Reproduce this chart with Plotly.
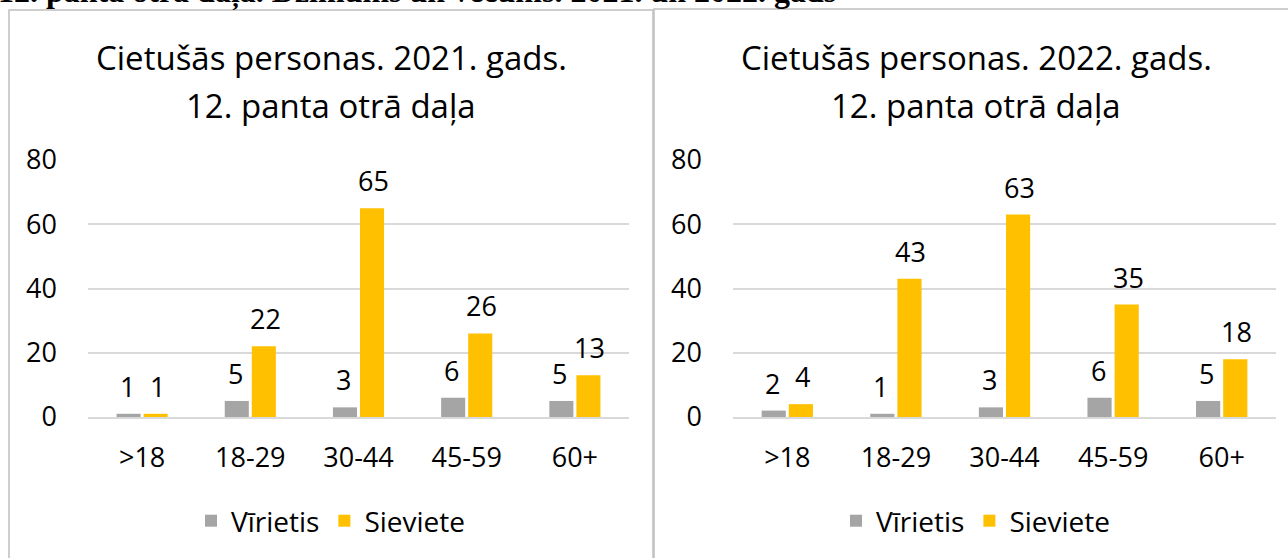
import plotly.graph_objects as go

categories = [">18", "18-29", "30-44", "45-59", "60+"]
male_2021 = [1, 5, 3, 6, 5]
female_2021 = [1, 22, 65, 26, 13]
male_2022 = [2, 1, 3, 6, 5]
female_2022 = [4, 43, 63, 35, 18]
series_names = ["Vīrietis", "Sieviete"]
tick_vals = [0, 20, 40, 60, 80]
title_line1 = ["Cietušās personas. 2021. gads.", "Cietušās personas. 2022. gads."]
title_line2 = "12. panta otrā daļa"
header = "12. panta otrā daļa. Dzimums un vecums. 2021. un 2022. gads"

GRAY = "#A5A5A5"
GOLD = "#FFC000"
FONT = "Open Sans"
W, H = 1288, 558

def px(x):
    return x / W

def py(y):
    return 1 - y / H

fig = go.Figure()
panels = [
    (male_2021, female_2021, "x", "y", "legend"),
    (male_2022, female_2022, "x2", "y2", "legend2"),
]
for male, female, xa, ya, lg in panels:
    for name, vals, col in zip(series_names, [male, female], [GRAY, GOLD]):
        fig.add_trace(go.Bar(
            x=categories, y=vals, name=name, marker_color=col,
            marker_line_width=0, xaxis=xa, yaxis=ya, legend=lg,
            hoverinfo="skip",
        ))
        shift = -15 if col == GRAY else 15
        for c, v in zip(categories, vals):
            fig.add_annotation(
                x=c, y=v, xref=xa, yref=ya, text=str(v), showarrow=False,
                xshift=shift, yanchor="bottom", yshift=7,
                font=dict(family=FONT, size=27, color="#000"),
            )

axis_common = dict(showgrid=False, showline=True, linecolor="#D9D9D9", linewidth=1.5,
                   ticks="", ticklabelstandoff=16,
                   tickfont=dict(family=FONT, size=27, color="#000"),
                   fixedrange=True, automargin=False)
yaxis_common = dict(range=[0, 80], tickvals=tick_vals, showgrid=True, gridcolor="#D9D9D9",
                    gridwidth=1.5, zeroline=False, showline=False, ticks="",
                    ticklabelstandoff=30, automargin=False,
                    tickfont=dict(family=FONT, size=27, color="#000"), fixedrange=True)

ydom = [py(417), py(160)]
fig.update_layout(
    width=W, height=H, margin=dict(l=0, r=0, t=0, b=0, autoexpand=False),
    paper_bgcolor="white", plot_bgcolor="white",
    barmode="group", bargap=0.5, bargroupgap=0.11,
    xaxis=dict(domain=[px(88), px(629)], anchor="y", **axis_common),
    yaxis=dict(domain=ydom, anchor="x", **yaxis_common),
    xaxis2=dict(domain=[px(733), px(1276)], anchor="y2", **axis_common),
    yaxis2=dict(domain=ydom, anchor="x2", **yaxis_common),
    legend=dict(orientation="h", x=px(331), y=py(521), xanchor="center", yanchor="middle",
                font=dict(family=FONT, size=28, color="#000"), bgcolor="rgba(0,0,0,0)"),
    legend2=dict(orientation="h", x=px(976), y=py(521), xanchor="center", yanchor="middle",
                 font=dict(family=FONT, size=28, color="#000"), bgcolor="rgba(0,0,0,0)"),
    showlegend=True,
)

# chart frames
fig.add_shape(type="rect", xref="paper", yref="paper",
              x0=px(9), x1=px(653), y0=py(600), y1=py(10),
              line=dict(color="#BFBFBF", width=1.5), fillcolor="rgba(0,0,0,0)", layer="below")
fig.add_shape(type="rect", xref="paper", yref="paper",
              x0=px(654), x1=px(1320), y0=py(600), y1=py(9),
              line=dict(color="#BFBFBF", width=1.5), fillcolor="rgba(0,0,0,0)", layer="below")

# titles (two separate lines for Excel-like line spacing)
for t1, cx in zip(title_line1, [331, 976]):
    fig.add_annotation(x=px(cx), y=py(57), xref="paper", yref="paper", text=t1,
                       showarrow=False, xanchor="center", yanchor="middle",
                       font=dict(family=FONT, size=33, color="#000"))
    fig.add_annotation(x=px(cx), y=py(105), xref="paper", yref="paper", text=title_line2,
                       showarrow=False, xanchor="center", yanchor="middle",
                       font=dict(family=FONT, size=33, color="#000"))

# cut-off page header (as in the reference, only its lower part is visible)
fig.add_annotation(x=0, y=py(-9), xref="paper", yref="paper", text="<b>" + header + "</b>",
                   showarrow=False, xanchor="left", yanchor="middle", xshift=-4,
                   font=dict(family="Liberation Serif", size=32, color="#000"))

fig.write_html("out.html", config={"displayModeBar": False},
               post_script="document.body.style.margin='0';")
